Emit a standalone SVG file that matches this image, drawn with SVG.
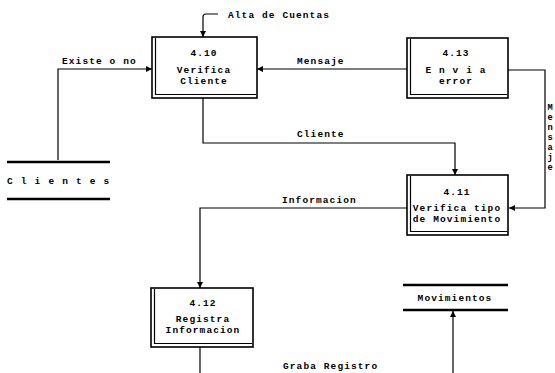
<svg xmlns="http://www.w3.org/2000/svg" width="555" height="373" viewBox="0 0 555 373">
<defs>
<marker id="ah" markerWidth="7" markerHeight="7" refX="6" refY="3.5" orient="auto" markerUnits="userSpaceOnUse">
<path d="M0,0.5 L6,3.5 L0,6.5 z" fill="#000"/>
</marker>
<style>
.t{font-family:"Liberation Mono","DejaVu Sans Mono",monospace;font-weight:bold;font-size:9.5px;letter-spacing:1.1px;fill:#000}
.c{text-anchor:middle}
.v{writing-mode:vertical-rl;text-orientation:upright;letter-spacing:0;font-size:8.7px}
.box{fill:#fff;stroke:#000;stroke-width:1.6}
.in{fill:none;stroke:#000;stroke-width:1.2}
.ln{fill:none;stroke:#000;stroke-width:1.2}
.st{stroke:#000;stroke-width:2.4}
</style>
</defs>
<rect width="555" height="373" fill="#fff"/>
<g id="connectors">
<path class="ln" d="M218,14 H206 Q203,14 203,17 V37" marker-end="url(#ah)"/>
<path class="ln" d="M58,160 V69 H152" marker-end="url(#ah)"/>
<path class="ln" d="M407,69 H257" marker-end="url(#ah)"/>
<path class="ln" d="M203,98 V143 H455 V175" marker-end="url(#ah)"/>
<path class="ln" d="M508,70 H545 V208 H509" marker-end="url(#ah)"/>
<path class="ln" d="M407,208 H200 V288" marker-end="url(#ah)"/>
<path class="ln" d="M200,347 V373"/>
<path class="ln" d="M453,373 V311" marker-end="url(#ah)"/>
<text class="t" x="228" y="18">Alta de Cuentas</text>
<text class="t" x="62" y="64">Existe o no</text>
<text class="t" x="297" y="64">Mensaje</text>
<text class="t" x="297" y="137">Cliente</text>
<text class="t" x="282" y="203">Informacion</text>
<text class="t" x="283" y="369">Graba Registro</text>
<text class="t v" x="550" y="103">Mensaje</text>
</g>
<g id="n410">
<rect class="box" x="152" y="37" width="105" height="61"/>
<path class="in" d="M155.5,38 V94.5 H256"/>
<text class="t c" x="204" y="56">4.10</text>
<text class="t c" x="204" y="73">Verifica</text>
<text class="t c" x="204" y="83.5">Cliente</text>
</g>
<g id="n413">
<rect class="box" x="407" y="38" width="101" height="60"/>
<path class="in" d="M410.5,39 V94.5 H507"/>
<text class="t c" x="456" y="56">4.13</text>
<text class="t c" x="456" y="73">E n v i a</text>
<text class="t c" x="456" y="83.5">error</text>
</g>
<g id="n411">
<rect class="box" x="407" y="175" width="101" height="60"/>
<path class="in" d="M410.5,176 V231.5 H507"/>
<text class="t c" x="457" y="195">4.11</text>
<text class="t c" x="457" y="211">Verifica tipo</text>
<text class="t c" x="457" y="221.5">de Movimiento</text>
</g>
<g id="n412">
<rect class="box" x="151" y="288" width="102" height="59"/>
<path class="in" d="M154.5,289 V343.5 H252"/>
<text class="t c" x="203" y="306">4.12</text>
<text class="t c" x="203" y="322">Registra</text>
<text class="t c" x="203" y="332.5">Informacion</text>
</g>
<g id="clientes">
<line class="st" x1="7" y1="162" x2="110" y2="162"/>
<text class="t" x="7" y="184" style="letter-spacing:1.2px">C l i e n t e s</text>
<line class="st" x1="7" y1="199" x2="110" y2="199"/>
</g>
<g id="movimientos">
<line class="st" x1="403" y1="285" x2="508" y2="285"/>
<text class="t c" x="455" y="301">Movimientos</text>
<line class="st" x1="403" y1="310" x2="508" y2="310"/>
</g>
</svg>
